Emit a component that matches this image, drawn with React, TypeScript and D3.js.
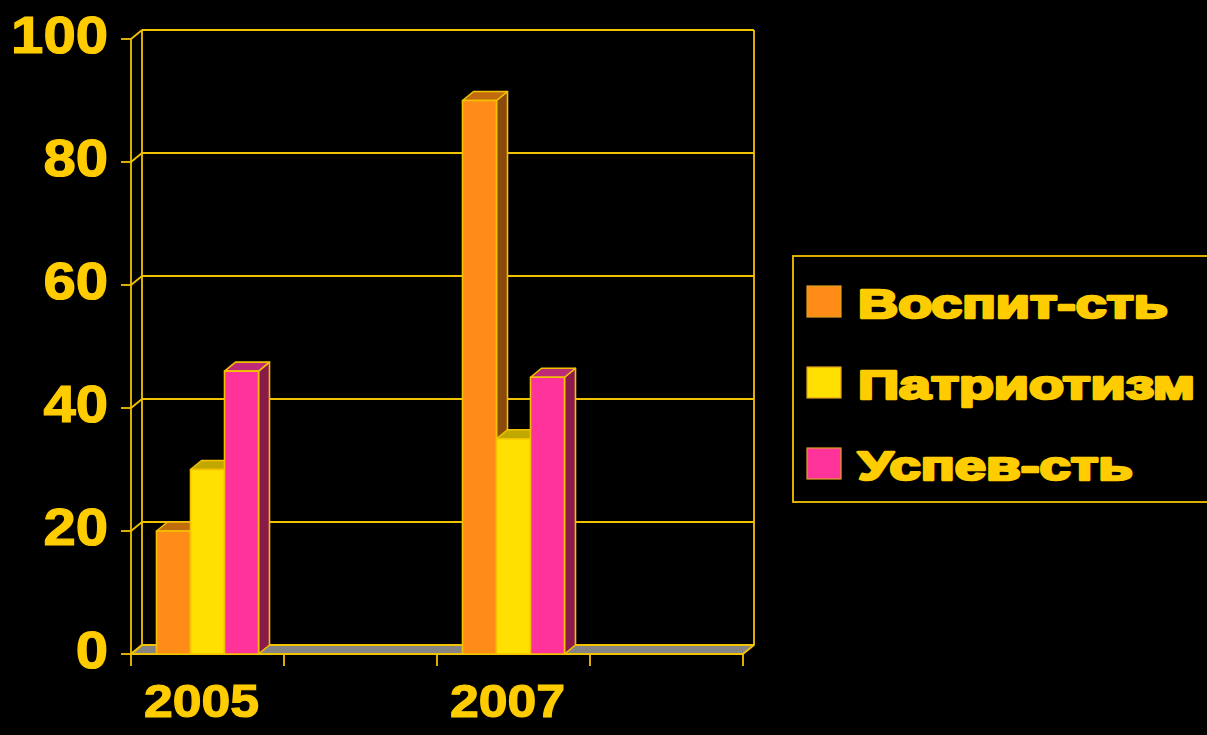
import { useEffect } from 'react'
import * as d3 from 'd3'

// chart data
const categories = ['2005', '', '2007', '']
const seriesNames = ['Воспит-сть', 'Патриотизм', 'Успев-сть']
const vospit = [20, null, 90, null]
const patriot = [30, null, 35, null]
const uspev = [46, null, 45, null]
const yTicks = [0, 20, 40, 60, 80, 100]

const SERIES = [
  { name: seriesNames[0], values: vospit, front: '#FF8C17', side: '#8A4A0C', top: '#C06C0E' },
  { name: seriesNames[1], values: patriot, front: '#FFE000', side: '#9C8600', top: '#C0A800' },
  { name: seriesNames[2], values: uspev, front: '#FF3399', side: '#8A1A4A', top: '#BC2A78' },
]

const GOLD = '#F2C200'
const TEXT = '#FFCC00'
const FONT = '"Liberation Sans", Arial, sans-serif'

export default function App() {
  useEffect(() => {
    document.body.style.margin = '0'
    document.body.style.background = '#000'
  }, [])

  const W = 1207
  const H = 735
  const dx = 11
  const dy = -9

  const x = d3
    .scaleBand<number>()
    .domain(categories.map((_, i) => i))
    .range([131, 743])
  const bw = x.bandwidth()
  const x1 = d3
    .scaleBand<number>()
    .domain(SERIES.map((_, i) => i))
    .range([0, bw])
    .paddingOuter(0.75)
  const y = d3.scaleLinear().domain([0, 100]).range([654, 39])

  const [x0, xEnd] = x.range()
  const y0 = y(0)

  const pts = (arr: number[][]) => arr.map(p => p.join(',')).join(' ')

  // bars, left to right so later fronts cover earlier sides
  const bars: any[] = []
  categories.forEach((_, ci) => {
    SERIES.forEach((s, si) => {
      const v = s.values[ci]
      if (v == null) return
      const bx = (x(ci) as number) + (x1(si) as number)
      const w = x1.bandwidth()
      const ty = y(v)
      bars.push({ key: `${ci}-${si}`, bx, w, ty, s })
    })
  })

  return (
    <svg
      width={W}
      height={H}
      style={{ position: 'absolute', left: 0, top: 0, background: '#000', display: 'block' }}
    >
      <rect x={0} y={0} width={W} height={H} fill="#000" />

      {/* floor */}
      <polygon
        points={pts([[x0, y0], [xEnd, y0], [xEnd + dx, y0 + dy], [x0 + dx, y0 + dy]])}
        fill="#858585"
        stroke={GOLD}
        strokeWidth={1.8}
        strokeLinejoin="round"
      />

      {/* back wall gridlines + side wall diagonals + ticks */}
      {yTicks.map(t => (
        <g key={t}>
          {t > 0 && (
            <line x1={x0 + dx} x2={xEnd + dx} y1={y(t) + dy} y2={y(t) + dy} stroke={GOLD} strokeWidth={1.8} />
          )}
          <line x1={x0} x2={x0 + dx} y1={y(t)} y2={y(t) + dy} stroke={GOLD} strokeWidth={1.8} />
          <line x1={x0 - 10} x2={x0} y1={y(t)} y2={y(t)} stroke={GOLD} strokeWidth={1.8} />
          <text
            x={108}
            y={y(t) + 14}
            textAnchor="end"
            fill={TEXT}
            stroke={TEXT}
            strokeWidth={1.2}
            fontFamily={FONT}
            fontWeight="bold"
            fontSize={52}
            textLength={String(t).length * 32.3}
            lengthAdjust="spacingAndGlyphs"
          >
            {t}
          </text>
        </g>
      ))}

      {/* wall verticals */}
      <line x1={x0 + dx} x2={x0 + dx} y1={y(100) + dy} y2={y0 + dy} stroke={GOLD} strokeWidth={1.8} />
      <line x1={xEnd + dx} x2={xEnd + dx} y1={y(100) + dy} y2={y0 + dy} stroke={GOLD} strokeWidth={1.8} />
      <line x1={x0} x2={x0} y1={y(100)} y2={y0 + 12} stroke={GOLD} strokeWidth={1.8} />

      {/* x axis front line and ticks */}
      <line x1={x0} x2={xEnd} y1={y0} y2={y0} stroke={GOLD} strokeWidth={1.8} />
      {categories.map((_, i) => (
        <line
          key={'t' + i}
          x1={(x(i) as number) + bw}
          x2={(x(i) as number) + bw}
          y1={y0}
          y2={y0 + 12}
          stroke={GOLD}
          strokeWidth={1.8}
        />
      ))}

      {/* bars */}
      {bars.map(b => (
        <g key={b.key} stroke={GOLD} strokeWidth={1.6} strokeLinejoin="round">
          <polygon
            points={pts([[b.bx + b.w, b.ty], [b.bx + b.w + dx, b.ty + dy], [b.bx + b.w + dx, y0 + dy], [b.bx + b.w, y0]])}
            fill={b.s.side}
          />
          <polygon
            points={pts([[b.bx, b.ty], [b.bx + dx, b.ty + dy], [b.bx + b.w + dx, b.ty + dy], [b.bx + b.w, b.ty]])}
            fill={b.s.top}
          />
          <rect x={b.bx} y={b.ty} width={b.w} height={y0 - b.ty} fill={b.s.front} />
        </g>
      ))}

      {/* category labels */}
      {categories.map((c, i) =>
        c ? (
          <text
            key={'c' + i}
            x={(x(i) as number) + bw / 2 - 6}
            y={717}
            textAnchor="middle"
            fill={TEXT}
            stroke={TEXT}
            strokeWidth={1.2}
            fontFamily={FONT}
            fontWeight="bold"
            fontSize={47}
            textLength={c.length * 28.8}
            lengthAdjust="spacingAndGlyphs"
          >
            {c}
          </text>
        ) : null
      )}

      {/* legend */}
      <rect x={793} y={256} width={430} height={246} fill="none" stroke={GOLD} strokeWidth={1.8} />
      {SERIES.map((s, i) => {
        const base = 318 + i * 81
        const widths = [310, 337, 275]
        return (
          <g key={s.name}>
            <rect x={807} y={base - 32} width={34} height={31} fill={s.front} stroke="#E0A020" strokeWidth={1.2} />
            <text
              x={858}
              y={base}
              fill={TEXT}
              stroke={TEXT}
              strokeWidth={2.6}
              strokeLinejoin="round"
              fontFamily={FONT}
              fontWeight="bold"
              fontSize={40}
              textLength={widths[i]}
              lengthAdjust="spacingAndGlyphs"
            >
              {s.name}
            </text>
          </g>
        )
      })}
    </svg>
  )
}
